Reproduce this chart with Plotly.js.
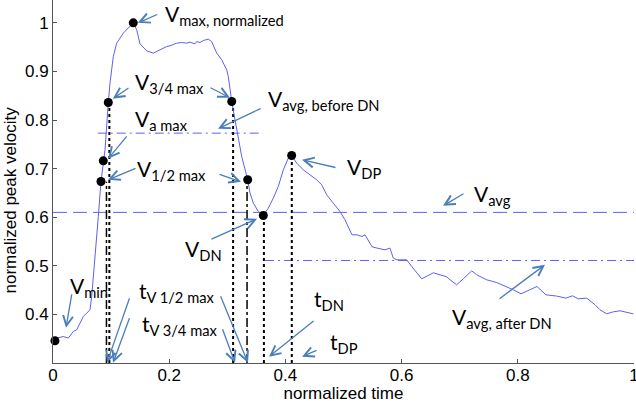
<!DOCTYPE html>
<html><head><meta charset="utf-8">
<script src="https://cdn.plot.ly/plotly-3.0.1.min.js"></script>
<style>html,body{margin:0;padding:0;background:#fff}#chart{width:636px;height:403px}</style>
</head><body><div id="chart"></div>
<script>
// normalized time / normalized peak velocity
const timeNorm = [0.0034,0.0064,0.0177,0.0263,0.0349,0.0408,0.0522,0.0608,0.0637,0.0666,0.0723,0.0780,0.0826,0.0866,0.0895,0.0952,0.0981,0.1038,0.1096,0.1210,0.1296,0.1382,0.1441,0.1497,0.1613,0.1726,0.1842,0.1957,0.2014,0.2129,0.2215,0.2301,0.2358,0.2444,0.2473,0.2530,0.2587,0.2673,0.2731,0.2818,0.2904,0.2990,0.3017,0.3046,0.3076,0.3133,0.3189,0.3248,0.3351,0.3391,0.3448,0.3534,0.3620,0.3706,0.3792,0.3878,0.3964,0.4050,0.4108,0.4195,0.4308,0.4423,0.4539,0.4625,0.4711,0.4824,0.4940,0.5026,0.5112,0.5146,0.5232,0.5318,0.5370,0.5439,0.5491,0.5594,0.5714,0.5800,0.5857,0.5921,0.6088,0.6174,0.6260,0.6346,0.6446,0.6546,0.6661,0.6776,0.6833,0.6948,0.7062,0.7206,0.7293,0.7465,0.7637,0.7809,0.7923,0.8055,0.8193,0.8330,0.8485,0.8670,0.8830,0.8941,0.9041,0.9186,0.9329,0.9415,0.9530,0.9644,0.9759,0.9880,0.9988];
const velNorm = [0.3457,0.3512,0.3545,0.3512,0.3648,0.3683,0.3957,0.4060,0.4095,0.4368,0.5123,0.6014,0.6735,0.7160,0.7387,0.8360,0.8759,0.9307,0.9582,0.9788,0.9891,1.0000,0.9856,0.9568,0.9424,0.9377,0.9444,0.9512,0.9527,0.9582,0.9595,0.9582,0.9603,0.9568,0.9615,0.9595,0.9636,0.9665,0.9615,0.9377,0.9239,0.9033,0.8895,0.8621,0.8381,0.8004,0.7660,0.7249,0.6770,0.6496,0.6290,0.6117,0.6035,0.6187,0.6393,0.6632,0.6975,0.7216,0.7270,0.7113,0.6975,0.6872,0.6770,0.6667,0.6461,0.6290,0.6117,0.5947,0.5700,0.5638,0.5638,0.5603,0.5638,0.5494,0.5391,0.5360,0.5329,0.5364,0.5158,0.5123,0.5123,0.4986,0.4850,0.4733,0.4794,0.4856,0.4815,0.4774,0.4712,0.4609,0.4733,0.4897,0.4815,0.4712,0.4656,0.4574,0.4506,0.4424,0.4506,0.4574,0.4403,0.4377,0.4335,0.4383,0.4321,0.4335,0.4198,0.4095,0.4012,0.4053,0.4074,0.4039,0.4012];

// marked key points: Vmin, V1/2max, Va max, V3/4max, Vmax, V3/4max, V1/2max, VDN, VDP
const keyT = [0.0034,0.0826,0.0866,0.0952,0.1382,0.3076,0.3351,0.3620,0.4108];
const keyV = [0.3457,0.6735,0.7160,0.8360,1.0000,0.8381,0.6770,0.6035,0.7270];

// vertical markers (time, top value)
const dottedT = [0.097,0.310,0.363,0.411];
const dottedTop = [0.836,0.838,0.6035,0.727];
const dashDotT = [0.092,0.334];
const dashDotTop = [0.673,0.677];
const axisFloor = 0.3;

// averages
const vAvg = 0.610;
const vAvgBeforeDN = 0.773;
const beforeDNSpan = [0.077,0.356];
const vAvgAfterDN = 0.511;
const afterDNSpan = [0.365,1.0];

const xTickVals = [0,0.2,0.4,0.6,0.8,1];
const xTickText = ['0','0.2','0.4','0.6','0.8','1'];
const yTickVals = [0.4,0.5,0.6,0.7,0.8,0.9,1];
const yTickText = ['0.4','0.5','0.6','0.7','0.8','0.9','1'];

const labelTexts = ['V<sub>max, normalized</sub>','V<sub>3/4 max</sub>','V<sub>a max</sub>','V<sub>1/2 max</sub>','V<sub>avg, before DN</sub>','V<sub>DP</sub>','V<sub>avg</sub>','V<sub>DN</sub>','V<sub>min</sub>','t<sub>V 1/2 max</sub>','t<sub>V 3/4 max</sub>','t<sub>DN</sub>','t<sub>DP</sub>','V<sub>avg, after DN</sub>'];

function drops(ts, tops){
  const x=[],y=[];
  ts.forEach((t,i)=>{x.push(t,t,null);y.push(axisFloor,tops[i],null);});
  return {x,y};
}
const dd = drops(dottedT,dottedTop);
const dm = drops(dashDotT,dashDotTop);
const blue = 'rgb(96,96,240)';

const traces = [
  {x:[0,1],y:[vAvg,vAvg],mode:'lines',line:{color:blue,width:1,dash:'14px,6px'},hoverinfo:'skip'},
  {x:beforeDNSpan,y:[vAvgBeforeDN,vAvgBeforeDN],mode:'lines',line:{color:blue,width:1,dash:'9px,4px,2px,4px'},hoverinfo:'skip'},
  {x:afterDNSpan,y:[vAvgAfterDN,vAvgAfterDN],mode:'lines',line:{color:blue,width:1,dash:'9px,4px,2px,4px'},hoverinfo:'skip'},
  {x:dd.x,y:dd.y,mode:'lines',line:{color:'#000',width:2,dash:'dot'},connectgaps:false},
  {x:dm.x,y:dm.y,mode:'lines',line:{color:'#000',width:1.5,dash:'dashdot'},connectgaps:false},
  {x:timeNorm,y:velNorm,mode:'lines',line:{color:blue,width:1}},
  {x:keyT,y:keyV,mode:'markers',marker:{color:'#000',size:9},cliponaxis:false}
];

const labelPos = [[0.189,1.016],[0.138,0.877],[0.138,0.800],[0.141,0.6975],[0.3666,0.8416],[0.5026,0.7016],[0.7212,0.6461],[0.2238,0.5329],[0.0258,0.4568],[0.1446,0.4465],[0.1497,0.3786],[0.4458,0.43],[0.4733,0.3416],[0.6833,0.393]];
const arrowPos = [[0.182,1.0185,0.146,1.0],[0.1325,0.868,0.103,0.844],[0.2685,0.868,0.3046,0.8457],[0.129,0.7695,0.0947,0.7202],[0.1446,0.7016,0.0947,0.677],[0.284,0.6893,0.3236,0.6728],[0.3597,0.8251,0.284,0.7819],[0.4888,0.7016,0.4286,0.7181],[0.7091,0.6502,0.6713,0.6235],[0.2702,0.5535,0.3511,0.5967],[0.0327,0.4444,0.0224,0.3724],[0.1325,0.4362,0.0929,0.3004],[0.2874,0.4403,0.3356,0.3004],[0.1325,0.395,0.1033,0.3004],[0.2909,0.3724,0.3133,0.3004],[0.451,0.3889,0.3718,0.3128],[0.4561,0.3272,0.4286,0.3128],[0.7659,0.43,0.8468,0.5021]];

const annotations = [];
labelTexts.forEach((t,i)=>annotations.push({text:t,x:labelPos[i][0],y:labelPos[i][1],xref:'x',yref:'y',showarrow:false,xanchor:'left',yanchor:'middle',font:{family:'Lato, sans-serif',size:21,color:'#000'}}));
arrowPos.forEach(a=>annotations.push({text:'',x:a[2],y:a[3],ax:a[0],ay:a[1],xref:'x',yref:'y',axref:'x',ayref:'y',showarrow:true,arrowhead:5,arrowsize:1.5,arrowwidth:1.3,arrowcolor:'#4a7ebb',standoff:0,startstandoff:0}));

const layout = {
  width:636,height:403,
  margin:{l:53,r:2,t:0,b:40},
  paper_bgcolor:'#fff',plot_bgcolor:'#fff',
  showlegend:false,
  font:{family:'Liberation Sans, Arial, sans-serif',color:'#000'},
  xaxis:{range:[0,1],tickvals:xTickVals,ticktext:xTickText,ticks:'inside',ticklen:4,tickcolor:'#555',showline:true,linecolor:'#555',linewidth:1,showgrid:false,zeroline:false,tickfont:{size:17},
    ticklabeloverflow:'allow',ticklabelstandoff:-3,
    title:{text:'normalized time',font:{size:17},standoff:9},automargin:false},
  yaxis:{range:[0.3,1.047],tickvals:yTickVals,ticktext:yTickText,ticks:'inside',ticklen:4,tickcolor:'#555',showline:true,linecolor:'#555',linewidth:1,showgrid:false,zeroline:false,tickfont:{size:17},
    title:{text:'normalized peak velocity&nbsp;&nbsp;&nbsp;&nbsp;&nbsp;&nbsp;&nbsp;&nbsp;',font:{size:17},standoff:4},automargin:false},
  annotations:annotations
};
Plotly.newPlot('chart',traces,layout,{staticPlot:true,displayModeBar:false});
</script></body></html>
